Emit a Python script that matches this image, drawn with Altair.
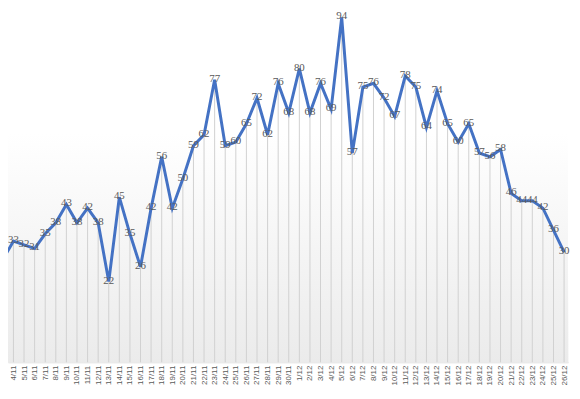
import altair as alt
import pandas as pd

days = [f"{d}/11" for d in range(4, 31)] + [f"{d}/12" for d in range(1, 27)]
values = [33, 32, 31, 35, 38, 43, 38, 42, 38, 22,
          45, 35, 26, 42, 56, 42, 50, 59, 62, 77,
          59, 60, 65, 72, 62, 76, 68,
          80, 68, 76, 69, 94, 57, 75, 76, 72, 67,
          78, 75, 64, 74, 65, 60, 65, 57, 56, 58,
          46, 44, 44, 42, 36, 30]
# the day before 4/11, only partly visible at the left edge
prev_day_value = 28

df = pd.DataFrame({"idx": list(range(len(days))), "day": days, "value": values})
line_df = pd.DataFrame({"idx": [-1] + list(range(len(days))), "value": [prev_day_value] + values})

label_array = "[" + ",".join(f"'{d}'" for d in days) + "]"
xscale = alt.Scale(domain=[-0.514, 52.374], nice=False, zero=False)
x = alt.X("idx:Q", scale=xscale,
          axis=alt.Axis(title=None, values=list(range(len(days))),
                        labelExpr=f"{label_array}[datum.value]",
                        labelAngle=-90, labelFontSize=8, labelColor="#595959",
                        labelFont="Liberation Sans", ticks=False, domainColor="#d9d9d9",
                        labelPadding=3, grid=False, labelOverlap=False, labelFlush=False))
yscale = alt.Scale(domain=[0, 96], nice=False)
y = alt.Y("value:Q", scale=yscale, axis=None)

bg = alt.Chart(df).mark_rect(
    color=alt.LinearGradient(gradient="linear", x1=0, x2=0, y1=0, y2=1,
                             stops=[alt.GradientStop(offset=0, color="#ffffff"),
                                    alt.GradientStop(offset=0.35, color="#ffffff"),
                                    alt.GradientStop(offset=1, color="#ebebeb")])
).encode(x=alt.value(0), x2=alt.value("width"), y=alt.value(0), y2=alt.value("height"))

rules = alt.Chart(df).mark_rule(color="#d0d0d0", strokeWidth=1).encode(
    x=x, y=y, y2=alt.datum(0))

line = alt.Chart(line_df).mark_line(color="#4472C4", strokeWidth=3, clip=True).encode(
    x=x, y=y)

labels = alt.Chart(df).mark_text(font="Liberation Serif", fontSize=11, color="#595959", dy=-1).encode(
    x=x, y=y, text="value:Q")

chart = alt.layer(bg, rules, line, labels).properties(
    width=566, height=356,
    autosize=alt.AutoSizeParams(type="none"),
    padding={"left": 0, "top": 0, "right": 4, "bottom": 24}
).configure_view(stroke=None)

chart.save("out.html", embed_options={"renderer": "svg", "actions": False})
